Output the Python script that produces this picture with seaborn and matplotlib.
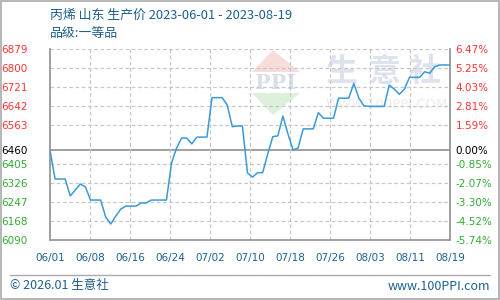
import numpy as np
import pandas as pd
import matplotlib
matplotlib.use("Agg")
import matplotlib.pyplot as plt
import seaborn as sns
from matplotlib.patches import Polygon, Rectangle
from matplotlib.lines import Line2D

# ---------------- data ----------------
title_text = "丙烯 山东 生产价 2023-06-01 - 2023-08-19"
subtitle_text = "品级:一等品"
prices = [6460, 6342, 6342, 6342, 6272, 6297, 6321, 6309, 6255, 6255,
          6255, 6185, 6156, 6189, 6218, 6230, 6230, 6230, 6243, 6243,
          6255, 6255, 6255, 6255, 6408, 6470, 6511, 6511, 6487, 6515,
          6515, 6515, 6678, 6678, 6678, 6648, 6558, 6561, 6561, 6367,
          6350, 6368, 6368, 6445, 6517, 6520, 6602, 6528, 6462, 6470,
          6549, 6549, 6549, 6616, 6593, 6593, 6593, 6676, 6676, 6676,
          6737, 6676, 6644, 6642, 6642, 6642, 6642, 6730, 6713, 6692,
          6713, 6762, 6762, 6762, 6785, 6779, 6806, 6813, 6813, 6813]
x_labels = ["06/01", "06/08", "06/16", "06/24", "07/02", "07/10",
            "07/18", "07/26", "08/03", "08/11", "08/19"]
y_ticks = [6090, 6168, 6247, 6326, 6405, 6460, 6563, 6642, 6721, 6800, 6879]
pct_labels = ["-5.74%", "-4.52%", "-3.30%", "-2.07%", "-0.85%", "0.00%",
              "1.59%", "2.81%", "4.03%", "5.25%", "6.47%"]
base_price = 6460

df = pd.DataFrame({"day": np.arange(len(prices)), "price": prices})

# ---------------- style ----------------
sns.set_style("white")
plt.rcParams["font.family"] = ["Noto Sans CJK SC", "DejaVu Sans"]

BLUE_TXT = "#1d5f8f"
RED = "#ff3333"
GREEN = "#33aa33"
GRID = "#c8c8c8"
AXIS = "#999999"

fig = plt.figure(figsize=(5, 3), dpi=100)
fig.patch.set_facecolor("white")
ax = fig.add_axes([0.1, 0.2, 0.8, 0.6367])

# watermark (figure coords)
W, H = 500.0, 300.0
def fx(x): return x / W
def fy(y): return 1 - y / H
tf = fig.transFigure
ax.add_patch(Polygon([(fx(252), fy(72)), (fx(300), fy(72)), (fx(273), fy(50))],
                     closed=True, transform=tf, facecolor="#f8dcdc",
                     edgecolor="none", zorder=0.2))
ax.add_patch(Polygon([(fx(252), fy(93)), (fx(300), fy(93)), (fx(273), fy(115))],
                     closed=True, transform=tf, facecolor="#dcf0dc",
                     edgecolor="none", zorder=0.2))
ax.text(fx(276), fy(83), "PPI", transform=tf, fontsize=15, fontweight="bold",
        family="DejaVu Serif", color="#d8dfea", ha="center", va="center", zorder=0.3)
for cx, ch in zip([341, 385, 425], ["生", "意", "社"]):
    ax.text(fx(cx), fy(72), ch, transform=tf, fontsize=23, fontweight="bold",
            color="#dde2ec", ha="center", va="center", zorder=0.3)
ax.text(fx(387), fy(105), "WWW.100PPI.COM", transform=tf, fontsize=9.5,
        family="DejaVu Sans", color="#ececec", ha="center", va="center", zorder=0.3)

# line
sns.lineplot(data=df, x="day", y="price", ax=ax, color="#3a9ad9",
             linewidth=1.1, zorder=3)

n = len(prices) - 1
xticks = np.linspace(0, n, len(x_labels))
ax.set_xlim(0, n)
ax.set_ylim(y_ticks[0], y_ticks[-1])
ax.set_xticks(xticks)
ax.set_xticklabels(x_labels)
ax.set_yticks(y_ticks)
ax.set_yticklabels([str(v) for v in y_ticks])
ax.set_xlabel("")
ax.set_ylabel("")

for v in y_ticks:
    if v == base_price:
        ax.axhline(v, color=AXIS, lw=1.3, zorder=1)
    else:
        ax.axhline(v, color=GRID, lw=0.9, ls=(0, (3, 2)), zorder=1)
for xv in xticks[1:-1]:
    ax.axvline(xv, color=GRID, lw=0.9, ls=(0, (3, 2)), zorder=1)

ax.tick_params(axis="both", length=0)
ax.tick_params(axis="y", pad=16)
ax.tick_params(axis="x", pad=9)
for lbl in ax.get_xticklabels():
    lbl.set_color(BLUE_TXT)
    lbl.set_fontsize(7.5)
    lbl.set_family("DejaVu Sans")
for lbl, v in zip(ax.get_yticklabels(), y_ticks):
    lbl.set_fontsize(7.5)
    lbl.set_family("DejaVu Sans")
    lbl.set_color("black" if v == base_price else (RED if v > base_price else GREEN))

for side in ["left", "bottom", "right"]:
    ax.spines[side].set_visible(True)
    ax.spines[side].set_color(AXIS)
    ax.spines[side].set_linewidth(1.3)
ax.spines["top"].set_visible(False)

ax2 = ax.twinx()
ax2.set_ylim(ax.get_ylim())
ax2.set_yticks(y_ticks)
ax2.set_yticklabels(pct_labels)
ax2.tick_params(axis="y", length=0, pad=4)
for lbl, v in zip(ax2.get_yticklabels(), y_ticks):
    lbl.set_fontsize(7.5)
    lbl.set_family("DejaVu Sans")
    lbl.set_color("black" if v == base_price else (RED if v > base_price else GREEN))
for s in ax2.spines.values():
    s.set_visible(False)

# titles
fig.text(fx(50), fy(15), title_text, fontsize=9.3, color=BLUE_TXT, ha="left", va="center")
fig.text(fx(50), fy(34), subtitle_text, fontsize=9.3, color=BLUE_TXT, ha="left", va="center")

# footer
fig.add_artist(Line2D([fx(10), fx(490)], [fy(275), fy(275)], transform=tf,
                      color="#aaaaaa", lw=1))
fig.text(fx(10), fy(286), "© 2026.01 生意社", fontsize=9, color=BLUE_TXT,
         ha="left", va="center")
fig.text(fx(490), fy(286), "www.100PPI.com", fontsize=9, color=BLUE_TXT,
         ha="right", va="center")

# outer border
fig.add_artist(Rectangle((0.001, 0.002), 0.997, 0.996, transform=tf,
                         fill=False, edgecolor="#aaaaaa", lw=1.2))

fig.savefig("out.png", dpi=100)
